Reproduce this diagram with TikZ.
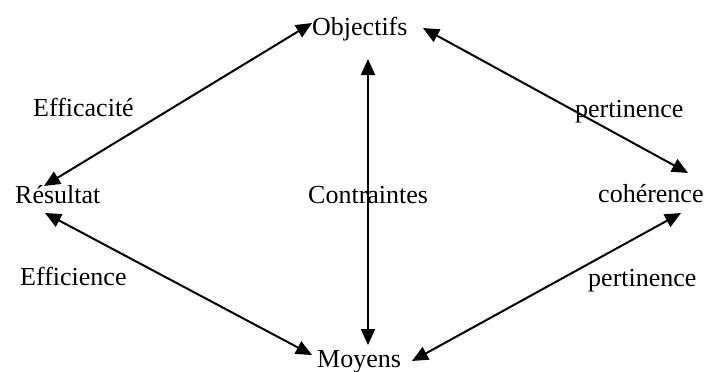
\documentclass[tikz,border=0pt]{standalone}
\usepackage{fontspec}
\setmainfont{Liberation Serif}
\usetikzlibrary{arrows.meta}
\begin{document}
\begin{tikzpicture}[x=1pt,y=-1pt,
  lbl/.style={inner sep=0pt,anchor=base west,font=\fontsize{26}{30}\selectfont},
  dbl/.style={line width=2pt,{Triangle[length=16pt,width=14pt]}-{Triangle[length=16pt,width=14pt]}}]
\useasboundingbox (0,0) rectangle (707,372);
\node[lbl] (obj) at (312,35) {Objectifs};
\node[lbl] (res) at (15,203) {Résultat};
\node[lbl] (coh) at (598,202) {cohérence};
\node[lbl] (con) at (308,203) {Contraintes};
\node[lbl] (moy) at (317,367) {Moyens};
\node[lbl] (eff1) at (33,116) {Efficacité};
\node[lbl] (eff2) at (20,285) {Efficience};
\node[lbl] (per1) at (575,117) {pertinence};
\node[lbl] (per2) at (588,286) {pertinence};
\coordinate (oL) at (312,23);
\coordinate (oR) at (423,28);
\coordinate (oB) at (368,59);
\coordinate (rT) at (44,186);
\coordinate (rB) at (45,213);
\coordinate (cT) at (688,173);
\coordinate (cB) at (681,213);
\coordinate (mL) at (312,355);
\coordinate (mT) at (368,345);
\coordinate (mR) at (412,361);
\draw[dbl] (rT) -- (oL);
\draw[dbl] (oR) -- (cT);
\draw[dbl] (oB) -- (mT);
\draw[dbl] (rB) -- (mL);
\draw[dbl] (cB) -- (mR);
\end{tikzpicture}
\end{document}
